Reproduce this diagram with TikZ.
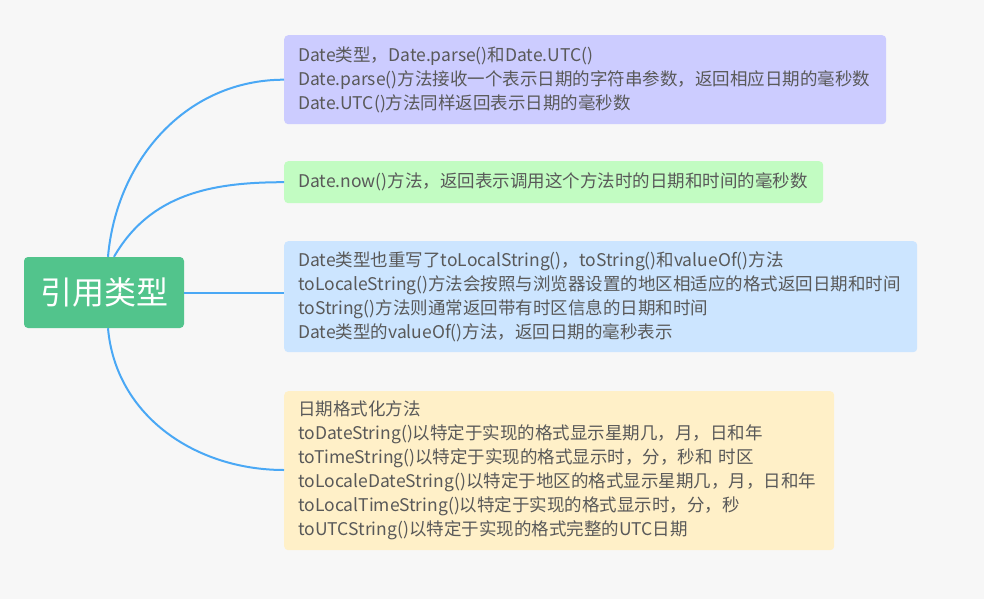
\documentclass[tikz,border=0pt]{standalone}
\usepackage{fontspec}
\setmainfont{Noto Sans CJK SC}
\usetikzlibrary{arrows.meta}
\definecolor{bgcol}{HTML}{F7F7F7}
\definecolor{rootcol}{HTML}{52C48C}
\definecolor{linkcol}{HTML}{4AA8F5}
\definecolor{txtcol}{HTML}{595959}
\definecolor{purplecol}{HTML}{CCCCFF}
\definecolor{greencol}{HTML}{C2FCC2}
\definecolor{bluecol}{HTML}{CCE5FF}
\definecolor{yellowcol}{HTML}{FFF0C8}

\begin{document}
\begin{tikzpicture}
      [x=1pt,y=-1pt,
       topic/.style={rectangle,rounded corners=4pt,fill=rootcol,text=white,
         font=\fontsize{32}{38}\selectfont,minimum width=160,minimum height=71,inner sep=0pt},
       note/.style={rectangle,rounded corners=4pt,anchor=north west,text=txtcol,align=left,
         font=\fontsize{17.5}{24}\selectfont,inner xsep=14,inner ysep=0pt},
       link/.style={draw=linkcol,line width=2pt}]
      \fill[bgcol] (0,0) rectangle (984,599) ;
      \useasboundingbox (0,0) rectangle (984,599) ;
      \node[topic] (root) at (104,292.5) {引用类型} ;
      \node[note,fill=purplecol,text width=574,minimum height=89] (parse) at (284,35)
        {Date类型，Date.parse()和Date.UTC()\\
         Date.parse()方法接收一个表示日期的字符串参数，返回相应日期的毫秒数\\
         Date.UTC()方法同样返回表示日期的毫秒数} ;
      \node[note,fill=greencol,text width=511,minimum height=42] (now) at (284,161)
        {Date.now()方法，返回表示调用这个方法时的日期和时间的毫秒数} ;
      \node[note,fill=bluecol,text width=605,minimum height=111] (tostr) at (284,241)
        {Date类型也重写了toLocalString()，toString()和valueOf()方法\\
         toLocaleString()方法会按照与浏览器设置的地区相适应的格式返回日期和时间\\
         toString()方法则通常返回带有时区信息的日期和时间\\
         Date类型的valueOf()方法，返回日期的毫秒表示} ;
      \node[note,fill=yellowcol,text width=522,minimum height=159] (format) at (284,391)
        {日期格式化方法\\
         toDateString()以特定于实现的格式显示星期几，月，日和年\\
         toTimeString()以特定于实现的格式显示时，分，秒和 时区\\
         toLocaleDateString()以特定于地区的格式显示星期几，月，日和年\\
         toLocalTimeString()以特定于实现的格式显示时，分，秒\\
         toUTCString()以特定于实现的格式完整的UTC日期} ;
      \coordinate (formatin) at ([yshift=-79]format.north west) ;
      \draw[link] ([xshift=4]root.north) to[out=85,in=180] (parse.west) ;
      \draw[link] ([xshift=10]root.north) to[out=60,in=180] (now.west) ;
      \draw[link] (root.east) to (tostr.west |- root.east) ;
      \draw[link] ([xshift=4]root.south) to[out=-85,in=180] (formatin) ;
    \end{tikzpicture}
\end{document}
